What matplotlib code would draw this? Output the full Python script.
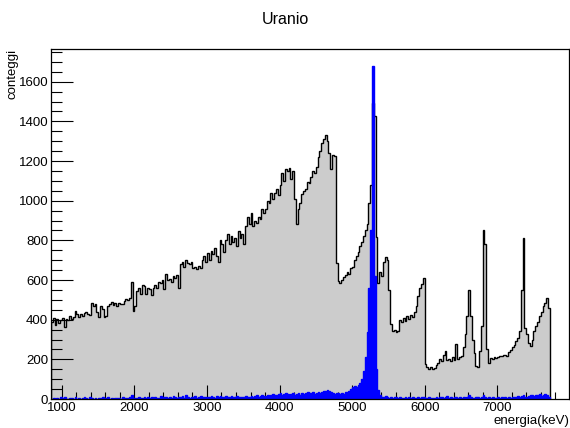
import numpy as np
import matplotlib
matplotlib.use("Agg")
import matplotlib.pyplot as plt
from matplotlib.ticker import MultipleLocator

# histogram binning (keV)
bin_lo = 850
bin_w = 25

# total spectrum, counts per bin, split in 500 keV blocks
g_0850 = [390, 410, 375, 405, 385, 398]
g_1000 = [408, 365, 402, 398, 420, 405, 412, 445, 430, 412, 428, 420, 435, 440, 430, 425, 482, 470, 480, 440]
g_1500 = [415, 470, 455, 415, 418, 470, 480, 490, 475, 485, 470, 482, 480, 478, 495, 505, 498, 510, 590, 445]
g_2000 = [470, 545, 560, 530, 575, 570, 530, 560, 555, 525, 560, 575, 560, 590, 585, 600, 555, 630, 600, 605]
g_2500 = [590, 620, 610, 625, 560, 680, 690, 665, 700, 685, 680, 690, 660, 665, 655, 670, 660, 700, 720, 690]
g_3000 = [735, 700, 745, 730, 760, 720, 690, 800, 780, 740, 800, 830, 780, 820, 790, 810, 770, 845, 810, 830]
g_3500 = [780, 870, 920, 880, 940, 870, 900, 890, 920, 910, 960, 940, 960, 1000, 990, 1040, 1010, 1040, 1060, 1030]
g_4000 = [1080, 1140, 1100, 1160, 1150, 1165, 1110, 1150, 1010, 880, 960, 990, 1035, 1050, 1060, 1095, 1090, 1120, 1150, 1140]
g_4500 = [1170, 1220, 1250, 1290, 1310, 1330, 1300, 1240, 1160, 1230, 1225, 686, 595, 585, 600, 615, 625, 640, 630, 660]
g_5000 = [665, 700, 720, 740, 770, 790, 820, 850, 880, 990, 1080, 1493, 1427, 818, 585, 640, 620, 690, 716, 700]
g_5500 = [550, 380, 345, 350, 340, 345, 400, 390, 410, 395, 420, 405, 425, 415, 440, 470, 520, 560, 580, 610]
g_6000 = [175, 160, 150, 160, 150, 155, 170, 180, 200, 190, 220, 240, 195, 200, 190, 210, 195, 275, 200, 210]
g_6500 = [215, 260, 330, 420, 550, 420, 300, 230, 165, 160, 240, 370, 850, 780, 250, 180, 205, 200, 210, 205]
g_7000 = [210, 215, 215, 220, 220, 215, 235, 245, 260, 270, 290, 310, 345, 550, 810, 360, 330, 280, 265, 300]
g_7500 = [345, 370, 390, 420, 440, 470, 485, 510, 460]

# selected events (blue), same binning
b_0850 = [0, 3, 0, 5, 2, 8]
b_1000 = [4, 10, 2, 0, 6, 3, 0, 8, 2, 5, 0, 4, 9, 3, 0, 12, 6, 2, 7, 0]
b_1500 = [5, 3, 8, 0, 4, 10, 2, 6, 0, 3, 7, 5, 2, 9, 4, 6, 3, 8, 22, 5]
b_2000 = [6, 4, 10, 3, 7, 12, 5, 8, 4, 9, 6, 11, 3, 7, 14, 5, 8, 10, 6, 12]
b_2500 = [7, 15, 9, 5, 11, 8, 13, 6, 20, 10, 7, 12, 9, 14, 6, 10, 13, 8, 11, 9]
b_3000 = [12, 8, 15, 10, 7, 13, 11, 16, 9, 12, 14, 8, 10, 15, 12, 9, 13, 11, 8, 12]
b_3500 = [10, 14, 9, 12, 16, 11, 13, 18, 12, 15, 20, 14, 17, 22, 16, 19, 24, 18, 21, 25]
b_4000 = [30, 22, 26, 28, 24, 20, 26, 30, 18, 24, 28, 22, 32, 26, 30, 34, 28, 31, 36, 27]
b_4500 = [30, 35, 28, 33, 38, 42, 45, 40, 35, 30, 26, 32, 28, 24, 30, 27, 34, 29, 42, 50]
b_5000 = [58, 65, 62, 70, 80, 100, 140, 210, 340, 560, 850, 1680, 620, 150, 45, 20, 12, 8, 15, 10]
b_5500 = [6, 10, 4, 8, 12, 5, 9, 3, 7, 11, 4, 8, 6, 10, 3, 7, 9, 5, 12, 8]
b_6000 = [6, 4, 9, 3, 7, 5, 10, 4, 8, 12, 6, 9, 15, 7, 11, 5, 8, 12, 6, 9]
b_6500 = [7, 10, 5, 12, 18, 9, 6, 4, 8, 10, 7, 12, 20, 9, 5, 8, 6, 10, 4, 7]
b_7000 = [8, 5, 9, 6, 11, 7, 10, 5, 8, 12, 9, 14, 10, 16, 22, 12, 9, 15, 18, 20]
b_7500 = [14, 22, 18, 25, 16, 20, 24, 18, 10]

total = np.concatenate([g_0850, g_1000, g_1500, g_2000, g_2500, g_3000, g_3500,
                        g_4000, g_4500, g_5000, g_5500, g_6000, g_6500, g_7000, g_7500])
sel = np.concatenate([b_0850, b_1000, b_1500, b_2000, b_2500, b_3000, b_3500,
                      b_4000, b_4500, b_5000, b_5500, b_6000, b_6500, b_7000, b_7500])
edges = bin_lo + bin_w * np.arange(len(total) + 1)

plt.rcParams['font.family'] = ['Liberation Sans', 'DejaVu Sans']

fig = plt.figure(figsize=(5.7, 4.28), dpi=100)
ax = fig.add_axes([51/570, 1 - 399/428, 518/570, 350/428])

ax.stairs(total, edges, fill=True, color='#cccccc', zorder=1)
ax.stairs(total, edges, color='black', lw=1.0, zorder=2)
ax.stairs(sel, edges, fill=True, color='#0000ff', zorder=3)
ax.stairs(sel, edges, color='#0000ff', lw=1.0, zorder=4)

ax.set_xlim(850, 7990)
ax.set_ylim(0, 1765)

ax.xaxis.set_major_locator(MultipleLocator(1000))
ax.xaxis.set_minor_locator(MultipleLocator(200))
ax.yaxis.set_major_locator(MultipleLocator(200))
ax.yaxis.set_minor_locator(MultipleLocator(50))
ax.tick_params(which='both', direction='in', top=False, right=False,
               labelsize=9.5, width=0.8, color='black', pad=2)
ax.tick_params(axis='x', which='major', length=10)
ax.tick_params(axis='x', which='minor', length=5)
ax.tick_params(axis='y', which='major', length=16)
ax.tick_params(axis='y', which='minor', length=8)
for s in ax.spines.values():
    s.set_linewidth(0.9)
    s.set_zorder(5)

ax.set_xlabel('energia(keV)', fontsize=9.5, loc='right', labelpad=1)
ax.set_ylabel('conteggi', fontsize=9.5, loc='top', labelpad=0)

fig.text(0.5, 1 - 20/428, 'Uranio', ha='center', va='center', fontsize=11.5)

fig.savefig('out.png', dpi=100)
